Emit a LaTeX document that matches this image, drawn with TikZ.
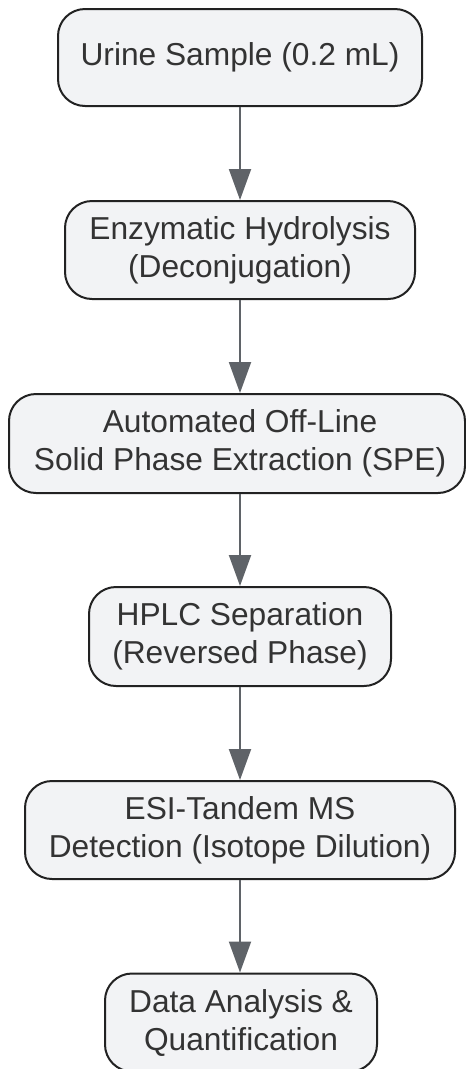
\documentclass[tikz,border=0pt]{standalone}
\usepackage{fontspec}
\setmainfont{Liberation Sans}
\usetikzlibrary{arrows.meta}
\definecolor{boxfill}{HTML}{F2F3F5}
\definecolor{boxline}{HTML}{222222}
\definecolor{txt}{HTML}{333333}
\definecolor{arr}{HTML}{5F6368}
\begin{document}
\begin{tikzpicture}[x=1pt,y=-1pt,
  stepbox/.style={draw=boxline, line width=2pt, fill=boxfill, rounded corners=27pt,
    align=center, inner sep=0pt, text=txt,
    font=\fontsize{31.7}{38}\selectfont},
  flow/.style={draw=arr, line width=2pt, -{Triangle[width=22pt,length=31pt]}, arr}]
\useasboundingbox (0,0) rectangle (466,1069);
\node[stepbox, minimum width=364pt, minimum height=97pt] (n1) at (240,57.5) {Urine Sample (0.2 mL)};
\node[stepbox, minimum width=350pt, minimum height=98pt] (n2) at (240,250) {Enzymatic Hydrolysis\\(Deconjugation)};
\node[stepbox, minimum width=456pt, minimum height=99pt] (n3) at (237,443.5) {\hspace*{6pt}Automated Off-Line\\\hspace*{6pt}Solid Phase Extraction (SPE)};
\node[stepbox, minimum width=302pt, minimum height=99pt] (n4) at (240,636.5) {HPLC Separation\\(Reversed Phase)};
\node[stepbox, minimum width=430pt, minimum height=98pt] (n5) at (240,830) {ESI-Tandem MS\\Detection (Isotope Dilution)};
\node[stepbox, minimum width=272pt, minimum height=98pt] (n6) at (241,1022.5) {Data Analysis \&\\Quantification};
\draw[flow] (n1.south) -- (n2.north);
\draw[flow] (n2.south) -- (n2.south |- n3.north);
\draw[flow] (n4.north |- n3.south) -- (n4.north);
\draw[flow] (n4.south) -- (n5.north);
\draw[flow] (n5.south) -- (n5.south |- n6.north);
\end{tikzpicture}
\end{document}
